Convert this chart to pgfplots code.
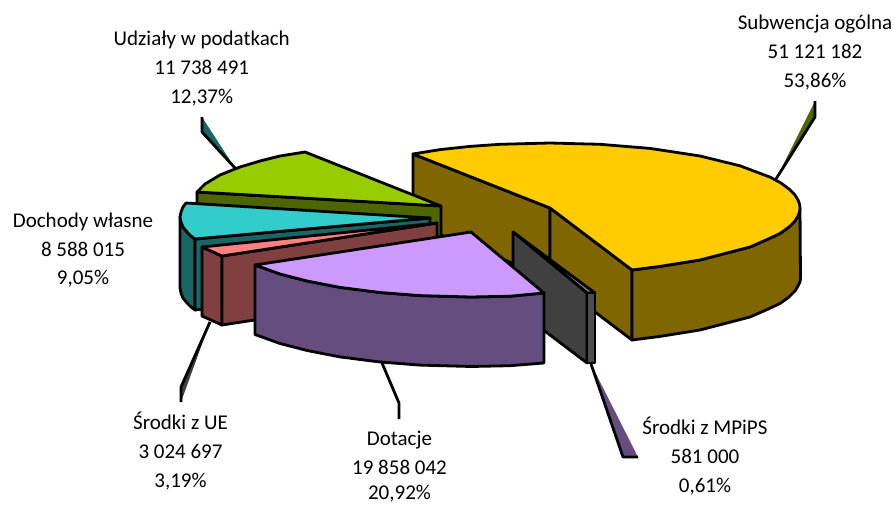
\documentclass[border=0pt]{standalone}
\usepackage{pgfplots}
\pgfplotsset{compat=1.18}
\usepackage{fontspec}
\setmainfont{Carlito}
\definecolor{yel}{HTML}{FFCC00}
\definecolor{yeld}{HTML}{806600}
\definecolor{gre}{HTML}{99CC00}
\definecolor{gred}{HTML}{4D6600}
\definecolor{cya}{HTML}{33CCCC}
\definecolor{cyad}{HTML}{1A6666}
\definecolor{redd}{HTML}{804040}
\definecolor{reda}{HTML}{FF8080}
\definecolor{pur}{HTML}{CC99FF}
\definecolor{purd}{HTML}{664D80}
\definecolor{gra}{HTML}{808080}
\definecolor{grad}{HTML}{404040}
\definecolor{grae}{HTML}{4D4D4D}
\tikzset{lbl/.style={font=\fontsize{21}{21}\selectfont, inner sep=0pt, anchor=base}}
\begin{document}
\begin{tikzpicture}
\useasboundingbox (0,0) rectangle (895pt,504pt);
\begin{axis}[
  scale only axis, width=895pt, height=504pt,
  xmin=0, xmax=895, ymin=0, ymax=504, y dir=reverse,
  hide axis, clip=false,
  every axis plot/.append style={draw=black, line width=2.8pt, line join=round, mark=none},
]
% leader lines
\addplot[draw=none, fill=gred] coordinates {(776,179)(815,117)(815,101)} -- cycle;
\addplot[fill=none] coordinates {(776,179)(815,117)(815,101)};
\addplot[draw=none, fill=cyad] coordinates {(235,168)(202,132)(202,117)} -- cycle;
\addplot[fill=none] coordinates {(235,168)(202,132)(202,117)};
\addplot[draw=none, fill=grad] coordinates {(210,322)(181,387)(181,402)} -- cycle;
\addplot[fill=none] coordinates {(210,322)(181,387)(181,402)};
\addplot[fill=none] coordinates {(382,363)(399,403)(399,419)};
\addplot[draw=none, fill=purd] coordinates {(591,364)(623,457)(638,457)} -- cycle;
\addplot[fill=none] coordinates {(591,364)(623,457)(638,457)};
% Subwencja ogolna
\addplot[fill=yeld] coordinates {(413,154)(550,208)(550,278)(413,224)} -- cycle;
\addplot[fill=yeld] coordinates {(550,208)(632,270)(632,340)(550,278)} -- cycle;
\addplot[fill=yeld] coordinates {(632,270)(660,266.4)(700,260)(750,247)(766,240)(780,233.5)(789,227)(795,221)(798,216)(799.5,212)(800,208)
  (800.5,278)(800,282)(798,286)(795,291)(789,297)(780,303.5)(766,310)(750,317)(700,330)(660,336.4)(632,340)} -- cycle;
\addplot[fill=yel] coordinates {(413,154)(440,149.6)(470,146.4)(500,144.3)(550,143)(600,144.3)(650,148.4)
  (700,156)(740,165.8)(770,177.1)(781,183)(790,189.8)(795,195)(798,200)(799.5,204)(800,208)(799.5,212)(798,216)(795,221)(789,227)(780,233.5)(766,240)(750,247)(700,260)(660,266.4)(632,270)(550,208)} -- cycle;
% Udzialy w podatkach
\addplot[fill=gred] coordinates {(197,192)(441,206)(441,276)(197,262)} -- cycle;
\addplot[fill=gre] coordinates {(305,152)(280,156)(260,161)(240,167)(220,175)(205,184)(197,192)(441,206)} -- cycle;
% Dochody wlasne
\addplot[fill=cyad] coordinates {(180,217)(181,222)(183,227)(187,232)(191,236)(195,239)(195,310)(191,307)(187,303)(183,298)(181,293)(180,288)} -- cycle;
\addplot[fill=cyad] coordinates {(195,239)(430,218)(430,288)(195,310)} -- cycle;
\addplot[fill=cya] coordinates {(186,203)(183,207)(181,212)(180,217)(181,222)(183,227)(187,232)(191,236)(195,239)(430,218)} -- cycle;
% Srodki z UE
\addplot[fill=redd] coordinates {(202,247)(222,256)(222,325)(202,316)} -- cycle;
\addplot[fill=redd] coordinates {(222,256)(437,223)(437,292)(222,325)} -- cycle;
\addplot[fill=reda] coordinates {(202,247)(437,223)(222,256)} -- cycle;
% Srodki z MPiPS
\addplot[fill=gra] coordinates {(513,232)(595,293)(587,293)} -- cycle;
\addplot[fill=grad] coordinates {(513,232)(587,293)(587,363)(513,307)} -- cycle;
\addplot[fill=grae] coordinates {(587,293)(595,293)(595,363)(587,363)} -- cycle;
% Dotacje
\addplot[fill=purd] coordinates {(255,265)(280,274)(307,281)(340,287.4)(380,292.5)(420,295.6)(471,297)(510,296.2)(544,293)
  (544,363)(510,365.7)(471,366.5)(420,365.1)(380,362)(340,356.9)(307,350.5)(280,343.5)(255,334.5)} -- cycle;
\addplot[fill=pur] coordinates {(471,232)(255,265)(280,274)(307,281)(340,287.4)(380,292.5)(420,295.6)(471,297)(510,296.2)(544,293)} -- cycle;
% labels
\node[lbl] at (axis cs:815,29) {Subwencja ogólna};
\node[lbl] at (axis cs:815,58) {51 121 182};
\node[lbl] at (axis cs:815,87) {53,86\%};
\node[lbl] at (axis cs:201.7,45) {Udziały w podatkach};
\node[lbl] at (axis cs:201.7,74) {11 738 491};
\node[lbl] at (axis cs:201.7,103) {12,37\%};
\node[lbl] at (axis cs:83,227) {Dochody własne};
\node[lbl] at (axis cs:83,256) {8 588 015};
\node[lbl] at (axis cs:83,284) {9,05\%};
\node[lbl] at (axis cs:180.5,429) {Środki z UE};
\node[lbl] at (axis cs:180.5,458) {3 024 697};
\node[lbl] at (axis cs:180.5,487) {3,19\%};
\node[lbl] at (axis cs:399.5,445) {Dotacje};
\node[lbl] at (axis cs:399.5,474) {19 858 042};
\node[lbl] at (axis cs:399.5,499.5) {20,92\%};
\node[lbl] at (axis cs:705,434) {Środki z MPiPS};
\node[lbl] at (axis cs:705,463) {581 000};
\node[lbl] at (axis cs:705,492) {0,61\%};
\end{axis}
\end{tikzpicture}
\end{document}
